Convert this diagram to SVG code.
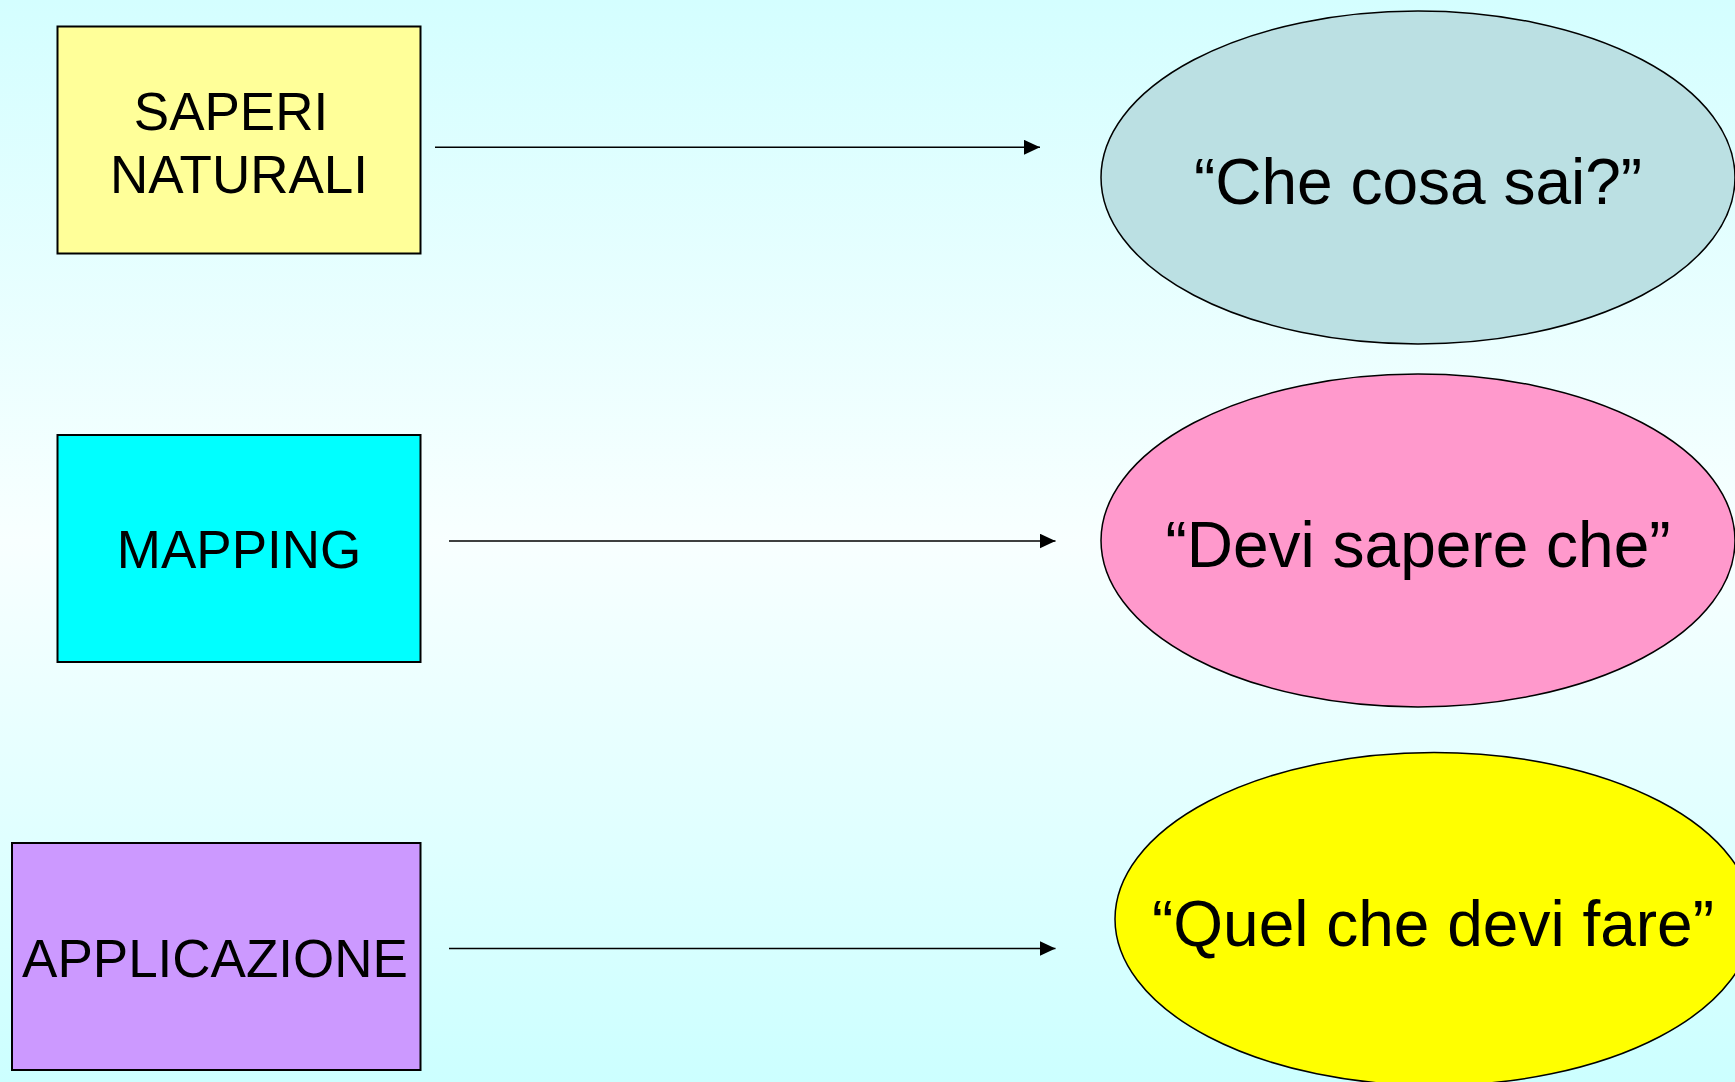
<svg xmlns="http://www.w3.org/2000/svg" width="1735" height="1082" viewBox="0 0 1735 1082">
<defs>
<linearGradient id="bg" x1="0" y1="0" x2="0" y2="1">
<stop offset="0" stop-color="#d4feff"/>
<stop offset="0.5" stop-color="#f8ffff"/>
<stop offset="1" stop-color="#ccffff"/>
</linearGradient>
<marker id="arr" markerWidth="16" markerHeight="15" refX="16" refY="7.5" orient="auto" markerUnits="userSpaceOnUse">
<path d="M0,0 L16,7.5 L0,15 Z" fill="#000"/>
</marker>
<style>
.box{stroke:#000;stroke-width:2}
.ell{stroke:#000;stroke-width:1.5}
.t{font-family:"Liberation Sans",Arial,sans-serif;fill:#000;text-anchor:middle}
.bt{font-size:53px}
.et{font-size:64px}
.conn line{stroke:#000;stroke-width:1.5;marker-end:url(#arr)}
</style>
</defs>
<rect x="0" y="0" width="1735" height="1082" fill="url(#bg)"/>
<g id="saperi">
<rect class="box" x="57.5" y="26.5" width="363" height="227" fill="#ffff99"/>
<text class="t bt" x="231" y="130">SAPERI</text>
<text class="t bt" x="239" y="193">NATURALI</text>
</g>
<g id="mapping">
<rect class="box" x="57.5" y="435" width="363" height="227" fill="#00ffff"/>
<text class="t bt" x="239" y="568">MAPPING</text>
</g>
<g id="applicazione">
<rect class="box" x="12" y="843" width="408.5" height="227" fill="#cc99ff"/>
<text class="t bt" x="215" y="977">APPLICAZIONE</text>
</g>
<g id="che-cosa-sai">
<ellipse class="ell" cx="1418" cy="177.5" rx="317" ry="166.5" fill="#bbe0e3"/>
<text class="t et" x="1418" y="204">“Che cosa sai?”</text>
</g>
<g id="devi-sapere">
<ellipse class="ell" cx="1418" cy="540.5" rx="317" ry="166.5" fill="#ff99cc"/>
<text class="t et" x="1418" y="567">“Devi sapere che”</text>
</g>
<g id="quel-che-devi-fare">
<ellipse class="ell" cx="1434" cy="919" rx="319" ry="166.5" fill="#ffff00"/>
<text class="t et" x="1433" y="946">“Quel che devi fare”</text>
</g>
<g id="connectors" class="conn">
<line x1="435" y1="147.3" x2="1040" y2="147.3"/>
<line x1="449" y1="541" x2="1055.5" y2="541"/>
<line x1="449" y1="948.5" x2="1055.5" y2="948.5"/>
</g>
</svg>
